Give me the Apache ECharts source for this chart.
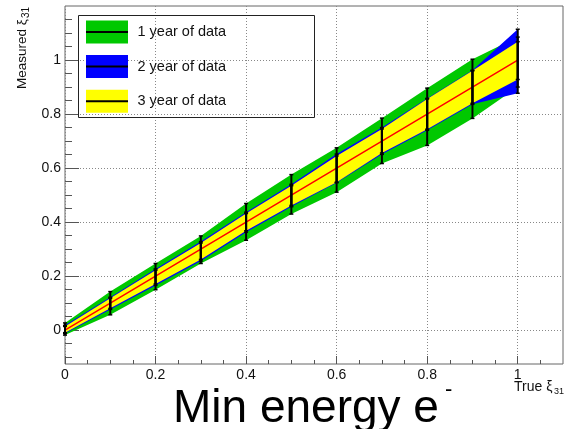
<!DOCTYPE html>
<html><head><meta charset="utf-8">
<script src="https://cdn.jsdelivr.net/npm/echarts@6/dist/echarts.min.js"></script>
<style>html,body{margin:0;padding:0;background:#fff}#c{width:566px;height:429px}</style>
</head><body><div id="c"></div>
<script>
// ---- data ----
const trueX     = [0, 0.1, 0.2, 0.3, 0.4, 0.5, 0.6, 0.7, 0.8, 0.9, 1.0];
const measured  = [0, 0.1, 0.2, 0.3, 0.4, 0.5, 0.6, 0.7, 0.8, 0.9, 1.0];
const year1Low  = [-0.018, 0.057, 0.150, 0.247, 0.333, 0.430, 0.511, 0.617, 0.684, 0.784, 0.900];
const year1High = [0.027, 0.143, 0.247, 0.349, 0.469, 0.576, 0.675, 0.785, 0.896, 1.003, 1.085];
const year2Low  = [-0.012, 0.077, 0.166, 0.256, 0.363, 0.457, 0.546, 0.651, 0.740, 0.836, 0.877];
const year2High = [0.018, 0.122, 0.227, 0.328, 0.437, 0.540, 0.652, 0.750, 0.858, 0.962, 1.114];
const year3Low  = [-0.009, 0.081, 0.171, 0.262, 0.368, 0.462, 0.548, 0.656, 0.744, 0.840, 0.928];
const year3High = [0.014, 0.118, 0.222, 0.323, 0.432, 0.535, 0.645, 0.745, 0.856, 0.960, 1.068];

const xMajorTicks = [0, 0.2, 0.4, 0.6, 0.8, 1];
const xMinorTicks = [0.05, 0.1, 0.15, 0.25, 0.3, 0.35, 0.45, 0.5, 0.55, 0.65, 0.7, 0.75, 0.85, 0.9, 0.95, 1.05];
const yMajorTicks = [0, 0.2, 0.4, 0.6, 0.8, 1];
const yMinorTicks = [-0.1, -0.05, 0.05, 0.1, 0.15, 0.25, 0.3, 0.35, 0.45, 0.5, 0.55, 0.65, 0.7, 0.75, 0.85, 0.9, 0.95, 1.05, 1.1, 1.15];

const legendNames = ['1 year of data', '2 year of data', '3 year of data'];
const bandColors  = ['#00c800', '#0000ff', '#ffff00'];

const FONT = 'Liberation Sans, Arial, sans-serif';

function bandSeries(name, lo, hi, color, z) {
  const data = trueX.map((x, i) => [x, lo[i], hi[i]]);
  return {
    name, type: 'custom', xAxisIndex: 0, yAxisIndex: 0, z, silent: true,
    data, encode: { x: 0, y: [1, 2] },
    renderItem(params, api) {
      if (params.dataIndex !== 0) return null;
      const upper = data.map(d => api.coord([d[0], d[2]]));
      const lower = data.map(d => api.coord([d[0], d[1]])).reverse();
      return { type: 'polygon', shape: { points: upper.concat(lower) }, style: { fill: color, stroke: null } };
    }
  };
}

function errSeries(lo, hi, z) {
  const data = trueX.map((x, i) => [x, lo[i], hi[i]]);
  return {
    type: 'custom', xAxisIndex: 0, yAxisIndex: 0, z, silent: true, clip: false,
    data, encode: { x: 0, y: [1, 2] },
    renderItem(params, api) {
      const x = api.value(0);
      const a = api.coord([x, api.value(1)]);
      const b = api.coord([x, api.value(2)]);
      const c = 2;
      return { type: 'group', children: [
        { type: 'line', shape: { x1: a[0], y1: a[1], x2: b[0], y2: b[1] }, style: { stroke: '#000', lineWidth: 2 } },
        { type: 'line', shape: { x1: a[0] - c, y1: a[1], x2: a[0] + c, y2: a[1] }, style: { stroke: '#000', lineWidth: 1.5 } },
        { type: 'line', shape: { x1: b[0] - c, y1: b[1], x2: b[0] + c, y2: b[1] }, style: { stroke: '#000', lineWidth: 1.5 } }
      ]};
    }
  };
}

const tickColor = '#555';
const gridLine = { show: true, lineStyle: { type: [1, 2], color: '#888', width: 1 } };

const legendGraphics = [{
  type: 'rect', z: 100, shape: { x: 78.5, y: 15.5, width: 236, height: 102 },
  style: { fill: null, stroke: '#222', lineWidth: 1 }
}];
legendNames.forEach((n, i) => {
  const cy = 32 + i * 34.6;
  legendGraphics.push(
    { type: 'rect', z: 100, shape: { x: 86, y: cy - 11.5, width: 42, height: 23 }, style: { fill: bandColors[i] } },
    { type: 'line', z: 101, shape: { x1: 86, y1: cy, x2: 128, y2: cy }, style: { stroke: '#000', lineWidth: 2 } },
    { type: 'text', z: 101, x: 137.5, y: cy, style: { text: n, fontSize: 14.5, fontFamily: FONT, fill: '#111', align: 'left', verticalAlign: 'middle' } }
  );
});

const option = {
  animation: false,
  backgroundColor: '#fff',
  textStyle: { fontFamily: FONT },
  grid: { left: 65, top: 6, width: 498, height: 358, show: true, borderColor: '#666', borderWidth: 1, backgroundColor: 'transparent' },
  xAxis: [
    { type: 'value', min: 0, max: 1.1, position: 'bottom',
      axisLine: { show: false, onZero: false },
      axisTick: { show: true, inside: true, length: 4, customValues: xMinorTicks, lineStyle: { color: tickColor } },
      axisLabel: { show: false }, splitLine: { show: false } },
    { type: 'value', min: 0, max: 1.1, position: 'bottom',
      axisLine: { show: false, onZero: false },
      axisTick: { show: true, inside: true, length: 8, customValues: xMajorTicks, lineStyle: { color: tickColor } },
      axisLabel: { customValues: xMajorTicks, margin: 4, fontSize: 14, color: '#111', fontFamily: FONT },
      splitLine: gridLine }
  ],
  yAxis: [
    { type: 'value', min: -0.125, max: 1.2, splitNumber: 6, position: 'left',
      axisLine: { show: false, onZero: false },
      axisTick: { show: true, inside: true, length: 7, customValues: yMinorTicks, lineStyle: { color: tickColor } },
      axisLabel: { show: false }, splitLine: { show: false } },
    { type: 'value', min: -0.125, max: 1.2, splitNumber: 6, position: 'left',
      axisLine: { show: false, onZero: false },
      axisTick: { show: true, inside: true, length: 14, customValues: yMajorTicks, lineStyle: { color: tickColor } },
      axisLabel: { customValues: yMajorTicks, margin: 4, fontSize: 14, color: '#111', fontFamily: FONT },
      splitLine: gridLine }
  ],
  series: [
    bandSeries(legendNames[0], year1Low, year1High, bandColors[0], 2),
    bandSeries(legendNames[1], year2Low, year2High, bandColors[1], 3),
    bandSeries(legendNames[2], year3Low, year3High, bandColors[2], 4),
    { type: 'line', xAxisIndex: 0, yAxisIndex: 0, z: 5, silent: true, showSymbol: false, symbol: 'none',
      data: trueX.map((x, i) => [x, measured[i]]), lineStyle: { color: '#ff0000', width: 1.5 } },
    errSeries(year1Low, year1High, 6),
    errSeries(year2Low, year2High, 6),
    errSeries(year3Low, year3High, 6)
  ],
  graphic: legendGraphics.concat([
    { type: 'group', x: 22, y: 89, rotation: Math.PI / 2, z: 100, children: [
      { type: 'text', x: 0, y: 0, style: { text: 'Measured ξ', fontSize: 13.5, fontFamily: FONT, fill: '#111', align: 'left', verticalAlign: 'middle' } },
      { type: 'text', x: 71, y: 4, style: { text: '31', fontSize: 10, fontFamily: FONT, fill: '#111', align: 'left', verticalAlign: 'middle' } }
    ]},
    { type: 'text', z: 100, x: 514, y: 387.5, style: { text: 'True ξ', fontSize: 14, fontFamily: FONT, fill: '#111', align: 'left', verticalAlign: 'middle' } },
    { type: 'text', z: 100, x: 554, y: 392, style: { text: '31', fontSize: 9, fontFamily: FONT, fill: '#111', align: 'left', verticalAlign: 'middle' } },
    { type: 'text', z: 100, x: 173, y: 409, style: { text: 'Min energy e', fontSize: 46, fontFamily: FONT, fill: '#000', align: 'left', verticalAlign: 'middle' } },
    { type: 'text', z: 100, x: 445, y: 390, style: { text: '-', fontSize: 22, fontFamily: FONT, fill: '#000', align: 'left', verticalAlign: 'middle' } }
  ])
};

const chart = echarts.init(document.getElementById('c'), null, { renderer: 'canvas' });
chart.setOption(option);
</script>
</body></html>
